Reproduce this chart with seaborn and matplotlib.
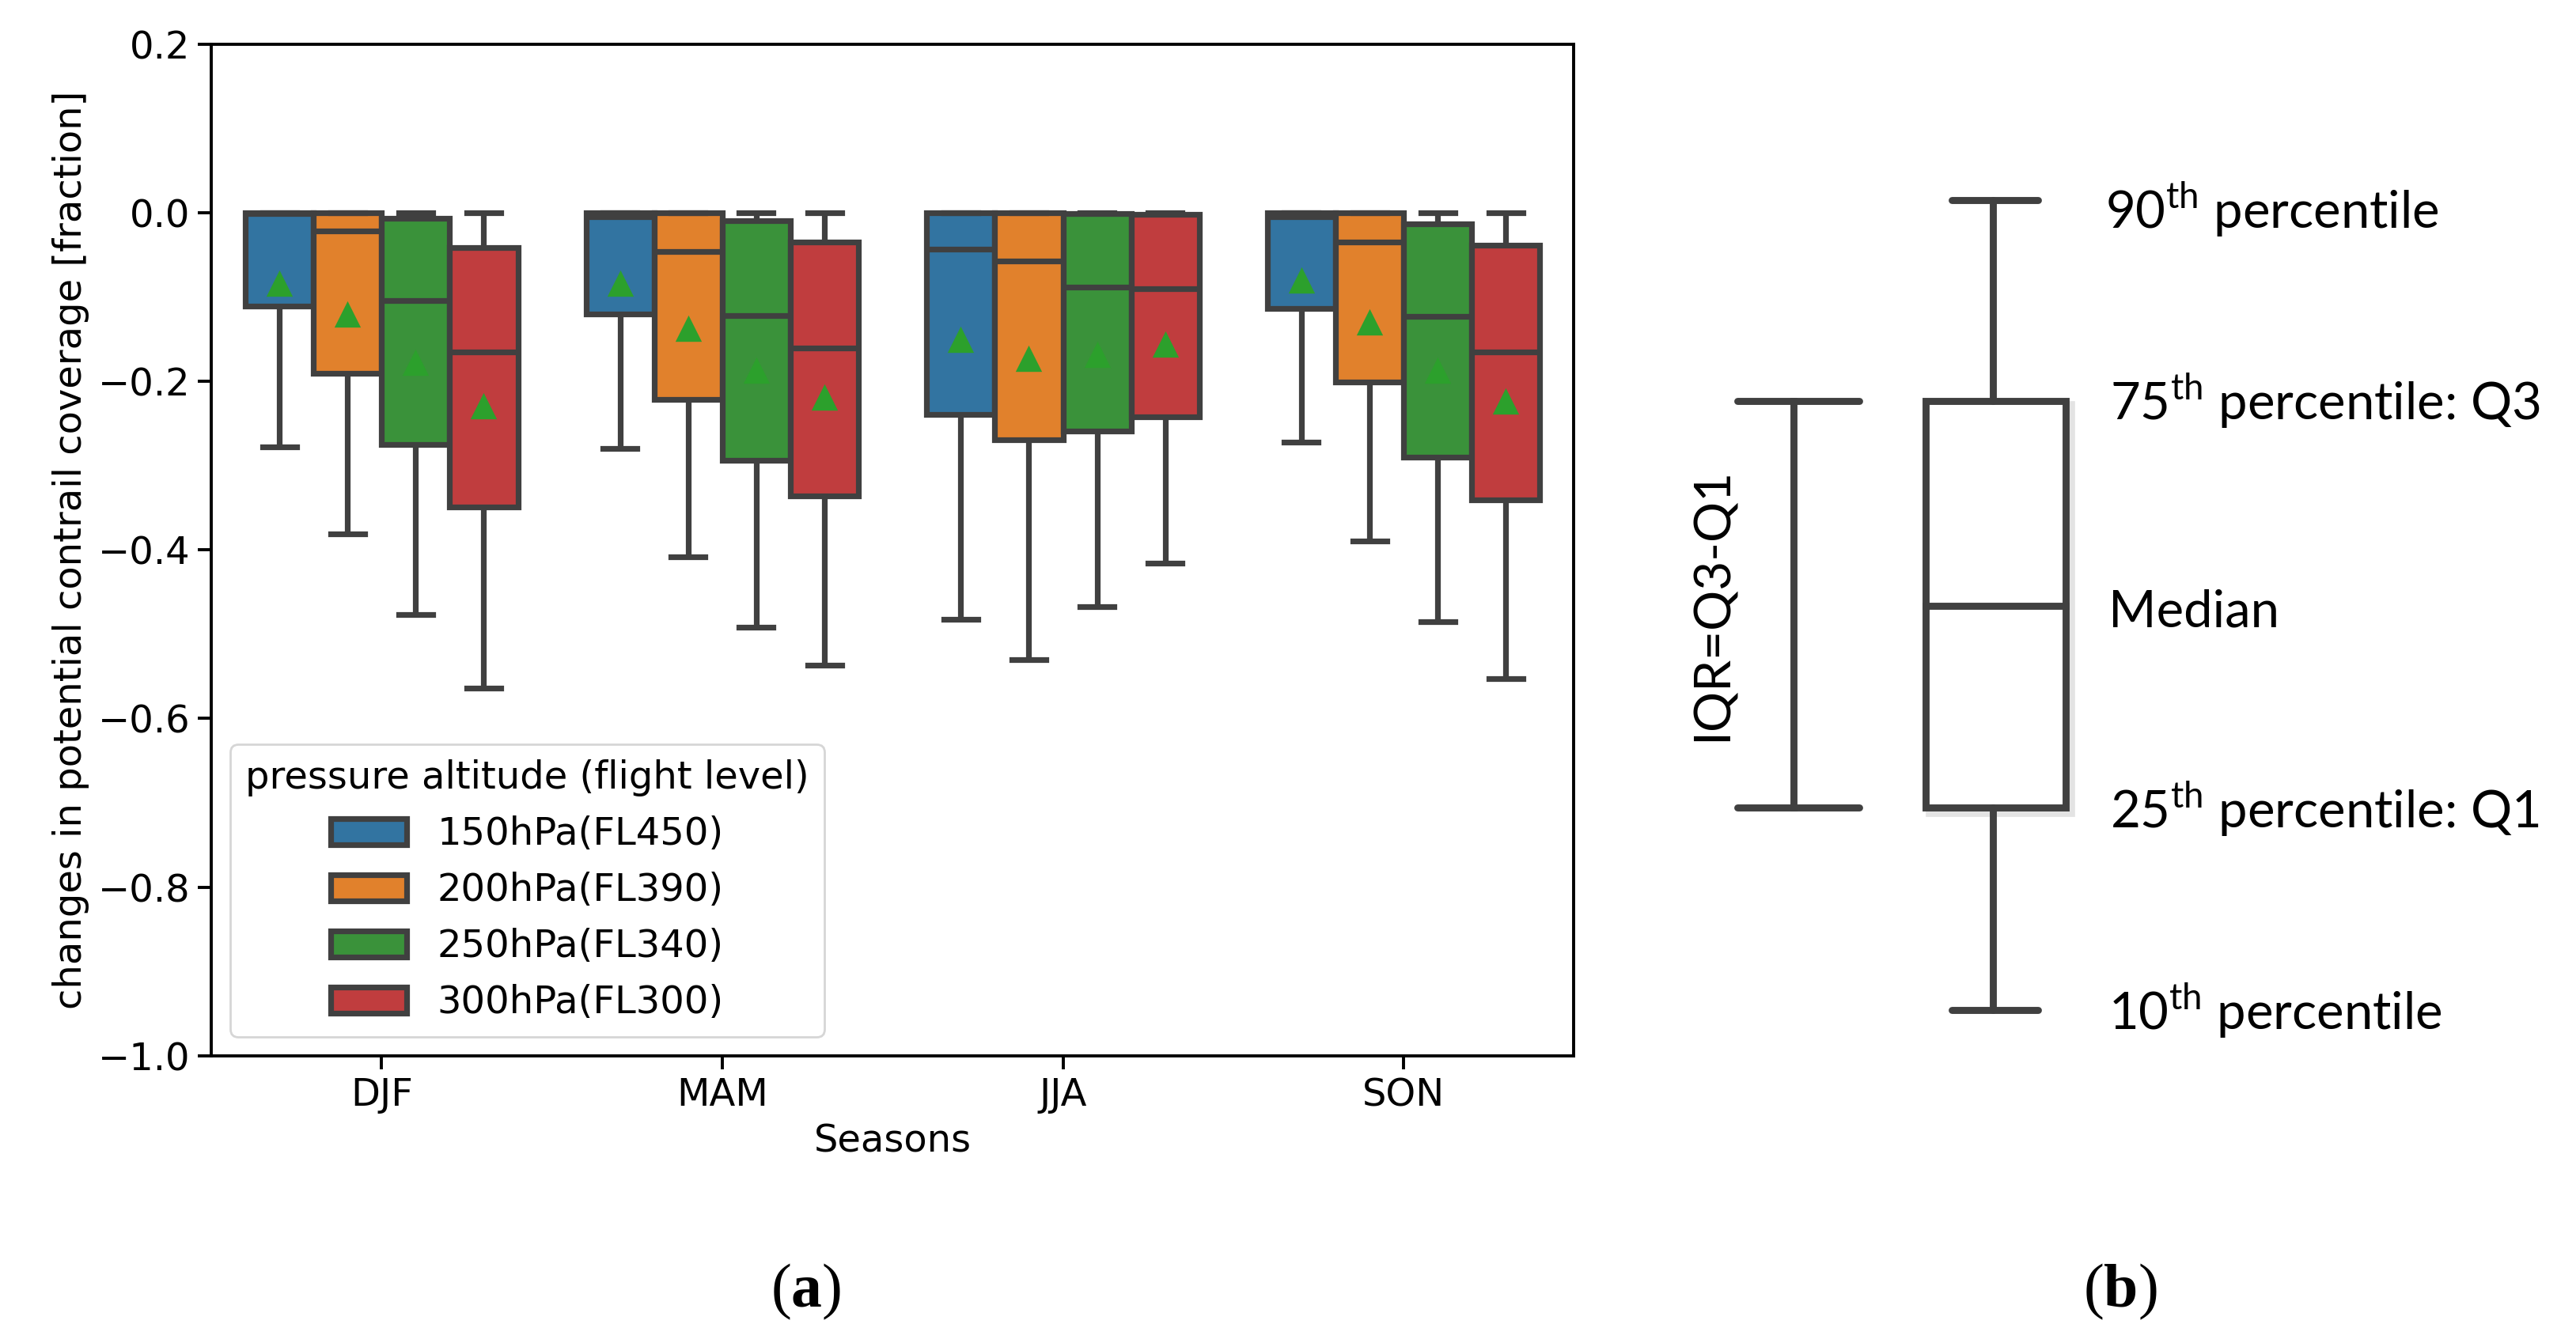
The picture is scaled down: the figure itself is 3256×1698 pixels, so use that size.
import numpy as np
import pandas as pd
import matplotlib.pyplot as plt
import seaborn as sns
from matplotlib.patches import Rectangle

plt.rcParams["font.size"] = 17.3
plt.rcParams["axes.linewidth"] = 1.4
plt.rcParams["xtick.major.width"] = 1.4
plt.rcParams["ytick.major.width"] = 1.4
plt.rcParams["xtick.major.size"] = 6
plt.rcParams["ytick.major.size"] = 6
plt.rcParams["mathtext.fontset"] = "custom"
plt.rcParams["mathtext.rm"] = "Lato"
plt.rcParams["mathtext.bf"] = "Liberation Serif:bold"

seasons = ["DJF", "MAM", "JJA", "SON"]
levels = ["150hPa(FL450)", "200hPa(FL390)", "250hPa(FL340)", "300hPa(FL300)"]

# one row per level, one column per season
p90 = [[0.0, 0.0, 0.0, 0.0],
       [0.0, 0.0, 0.0, 0.0],
       [0.0, 0.0, 0.0, 0.0],
       [0.0, 0.0, 0.0, 0.0]]
q3 = [[0.0, 0.0, 0.0, 0.0],
      [0.0, 0.0, 0.0, 0.0],
      [-0.006, -0.009, -0.001, -0.013],
      [-0.041, -0.035, -0.002, -0.038]]
med = [[-0.001, -0.005, -0.043, -0.005],
       [-0.021, -0.046, -0.057, -0.035],
       [-0.104, -0.122, -0.088, -0.123],
       [-0.165, -0.160, -0.090, -0.165]]
q1 = [[-0.111, -0.120, -0.239, -0.113],
      [-0.190, -0.221, -0.269, -0.201],
      [-0.275, -0.294, -0.259, -0.290],
      [-0.349, -0.336, -0.242, -0.341]]
p10 = [[-0.278, -0.280, -0.482, -0.272],
       [-0.381, -0.408, -0.530, -0.389],
       [-0.477, -0.492, -0.467, -0.485],
       [-0.564, -0.537, -0.416, -0.553]]
means = [[-0.083, -0.083, -0.150, -0.080],
         [-0.120, -0.137, -0.173, -0.129],
         [-0.177, -0.187, -0.168, -0.187],
         [-0.229, -0.219, -0.156, -0.223]]

rows = []
mrows = []
for j, lvl in enumerate(levels):
    for i, s in enumerate(seasons):
        for v in (p10[j][i], q1[j][i], med[j][i], q3[j][i], p90[j][i]):
            rows.append({"season": s, "level": lvl, "value": v})
        mrows.append({"season": s, "level": lvl, "mean": means[j][i]})
df = pd.DataFrame(rows)
mdf = pd.DataFrame(mrows)

fig = plt.figure(figsize=(16.28, 8.49), dpi=200)
ax = fig.add_axes([0.082, 0.214, 0.529, 0.753])

sns.boxplot(data=df, x="season", y="value", hue="level", whis=(0, 100),
            showfliers=False, linecolor="#404040", linewidth=2.6, ax=ax)
sns.stripplot(data=mdf, x="season", y="mean", hue="level", dodge=True,
              jitter=False, marker="^", size=12, linewidth=0,
              palette={l: "#2ca02c" for l in levels}, legend=False,
              ax=ax, zorder=5)

ax.set_ylim(-1.0, 0.2)
ax.set_yticks(np.arange(-1.0, 0.21, 0.2))
ax.set_xlabel("Seasons")
ax.set_ylabel("changes in potential contrail coverage [fraction]")
sns.move_legend(ax, "lower left", title="pressure altitude (flight level)",
                fontsize=17.3, title_fontsize=17.3)

# panel (b): schematic, in display-like coordinates
bx = fig.add_axes([0.641, 0.0, 0.359, 1.0])
bx.set_xlim(1006, 1566)
bx.set_ylim(813.6, 0)
bx.axis("off")
gc = "#404040"
lw = 3.2
bx.add_patch(Rectangle((1175, 246), 85, 246, fill=False, ec="#e3e3e3", lw=lw + 1, zorder=1))
bx.add_patch(Rectangle((1172, 243), 85, 246, fill=True, fc="white", ec=gc, lw=lw, zorder=2))
bx.plot([1172, 1257], [367, 367], color=gc, lw=lw, zorder=3)
bx.plot([1213, 1213], [121, 243], color=gc, lw=lw, solid_capstyle="round")
bx.plot([1213, 1213], [489, 612], color=gc, lw=lw, solid_capstyle="round")
bx.plot([1188, 1240], [121, 121], color=gc, lw=lw, solid_capstyle="round")
bx.plot([1188, 1240], [612, 612], color=gc, lw=lw, solid_capstyle="round")
bx.plot([1092, 1092], [243, 489], color=gc, lw=lw)
bx.plot([1058, 1132], [243, 243], color=gc, lw=lw, solid_capstyle="round")
bx.plot([1058, 1132], [489, 489], color=gc, lw=lw, solid_capstyle="round")

tf = dict(family="Lato", fontsize=23.5, va="center", ha="left", color="black")
bx.text(1281, 127, r"90$^{\mathrm{th}}$ percentile", **tf)
bx.text(1284, 243, r"75$^{\mathrm{th}}$ percentile: Q3", **tf)
bx.text(1283, 371, "Median", **tf)
bx.text(1284, 490, r"25$^{\mathrm{th}}$ percentile: Q1", **tf)
bx.text(1283, 612, r"10$^{\mathrm{th}}$ percentile", **tf)
bx.text(1043, 366, "IQR=Q3-Q1", family="Lato", fontsize=23, rotation=90,
        va="center", ha="center")

fig.text(0.313, 0.038, r"($\mathbf{a}$)", family="Liberation Serif", fontsize=28,
         ha="center", va="center")
fig.text(0.823, 0.038, r"($\mathbf{b}$)", family="Liberation Serif", fontsize=28,
         ha="center", va="center")

fig.savefig("out.png", dpi=200)
